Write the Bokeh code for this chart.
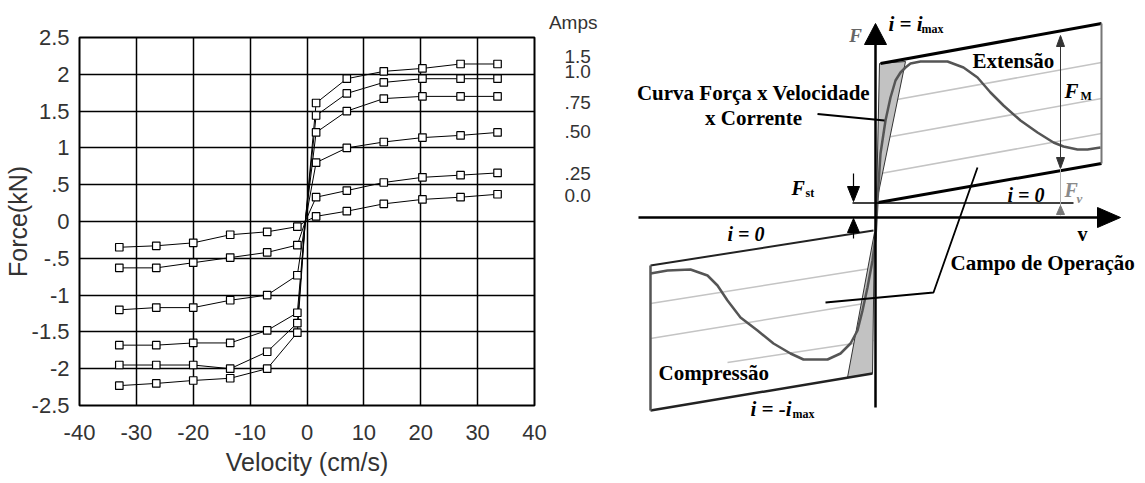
from bokeh.plotting import figure
from bokeh.layouts import row
from bokeh.models import Range1d, LinearAxis, FixedTicker
from bokeh.core.properties import value
from bokeh.embed import file_html
from bokeh.resources import INLINE

# ---------------- left chart data ----------------
velocity = [-33, -26.5, -20, -13.5, -7, -1.7, 1.6, 7, 13.5, 20.3, 27, 33.5]
crossing_velocity = -0.3
force_1_5 = [-2.23, -2.20, -2.16, -2.13, -2.00, -1.51, 1.61, 1.94, 2.04, 2.08, 2.14, 2.14]
force_1_0 = [-1.95, -1.95, -1.95, -2.00, -1.77, -1.38, 1.44, 1.74, 1.89, 1.94, 1.94, 1.94]
force_0_75 = [-1.68, -1.68, -1.65, -1.65, -1.48, -1.24, 1.21, 1.50, 1.67, 1.70, 1.70, 1.70]
force_0_50 = [-1.20, -1.17, -1.17, -1.07, -1.00, -0.73, 0.80, 1.00, 1.08, 1.14, 1.17, 1.21]
force_0_25 = [-0.63, -0.63, -0.56, -0.49, -0.42, -0.32, 0.33, 0.42, 0.53, 0.60, 0.63, 0.66]
force_0_0 = [-0.35, -0.33, -0.29, -0.18, -0.14, -0.07, 0.07, 0.14, 0.24, 0.30, 0.33, 0.37]
series = [force_1_5, force_1_0, force_0_75, force_0_50, force_0_25, force_0_0]
amp_labels = ["1.5", "1.0", ".75", ".50", ".25", "0.0"]
amp_label_force = [2.24, 2.04, 1.62, 1.22, 0.65, 0.36]
x_ticks = [-40, -30, -20, -10, 0, 10, 20, 30, 40]
x_tick_labels = ["-40", "-30", "-20", "-10", "0", "10", "20", "30", "40"]
y_ticks = [-2.5, -2, -1.5, -1, -0.5, 0, 0.5, 1, 1.5, 2, 2.5]
y_tick_labels = ["-2.5", "-2", "-1.5", "-1", "-.5", "0", ".5", "1", "1.5", "2", "2.5"]

SANS = "Liberation Sans"
SERIF = "Liberation Serif"
TXT = "#333333"

p = figure(width=605, height=483, x_range=Range1d(-40, 40), y_range=Range1d(-2.5, 2.5),
           output_backend="svg", toolbar_location=None,
           min_border_left=79, min_border_right=71, min_border_top=37, min_border_bottom=78)
p.frame_align = False
p.background_fill_color = "white"
p.outline_line_color = "black"
p.outline_line_width = 2

p.title.text = "Amps"
p.title.align = "right"
p.title.offset = -63
p.title.text_font = SANS
p.title.text_font_size = "19px"
p.title.text_font_style = "normal"
p.title.text_color = TXT

p.xaxis.ticker = FixedTicker(ticks=x_ticks)
p.yaxis.ticker = FixedTicker(ticks=y_ticks)
p.xaxis.major_label_overrides = {t: s for t, s in zip(x_ticks, x_tick_labels)}
p.yaxis.major_label_overrides = {t: s for t, s in zip(y_ticks, y_tick_labels)}
for ax in (p.xaxis[0], p.yaxis[0]):
    ax.axis_line_color = None
    ax.major_tick_out = 0
    ax.major_tick_in = 0
    ax.minor_tick_out = 0
    ax.minor_tick_in = 0
    ax.major_label_text_font = SANS
    ax.major_label_text_font_size = "22px"
    ax.major_label_text_color = TXT
    ax.axis_label_text_font = SANS
    ax.axis_label_text_font_size = "25px"
    ax.axis_label_text_font_style = "normal"
    ax.axis_label_text_color = TXT
p.xaxis.axis_label = "Velocity (cm/s)"
p.xaxis.major_label_standoff = 19
p.xaxis.axis_label_standoff = 5
p.yaxis.axis_label = "Force(kN)"
p.yaxis.major_label_standoff = 10
p.yaxis.axis_label_standoff = -3

p.xgrid.ticker = FixedTicker(ticks=x_ticks)
p.ygrid.ticker = FixedTicker(ticks=y_ticks)
for g in (p.xgrid[0], p.ygrid[0]):
    g.grid_line_color = "black"
    g.grid_line_width = 1.5
    g.grid_line_alpha = 1.0

for f in series:
    lx = velocity[:6] + [crossing_velocity] + velocity[6:]
    ly = f[:6] + [0.0] + f[6:]
    p.line(lx, ly, line_color="black", line_width=1)
for f in series:
    p.scatter(velocity, f, marker="square", size=7.5, fill_color="white",
              line_color="black", line_width=1.2)

amp_axis = LinearAxis(ticker=FixedTicker(ticks=amp_label_force),
                      major_label_overrides={t: s for t, s in zip(amp_label_force, amp_labels)},
                      major_label_text_font=SANS, major_label_text_font_style="normal",
                      major_label_text_font_size="19px", major_label_text_color=TXT,
                      axis_line_color=None, major_tick_out=0, major_tick_in=0,
                      minor_tick_out=0, minor_tick_in=0, major_label_standoff=30)
p.add_layout(amp_axis, "right")

# ---------------- right schematic (units: px, origin at axis crossing) ----------------
f_axis = ([0, 0], [-190, 173])
v_axis = ([-237, 223], [0, 0])
f_head = ([0, -11, 11], [194, 173, 173])
v_head = ([245, 222, 222], [0, 10, -10])

ext_top = ([5, 226], [154, 194])
ext_bottom = ([0, 226], [14.5, 54])
ext_right = ([226, 226], [54, 194])
ext_shade = ([4, 30, 1], [154, 156, 15])
ext_guides_x = [[5, 226], [5, 226], [5, 226]]
ext_guides_y = [[115, 155], [79, 119], [44, 84]]

comp_top = ([-225, -2], [-48, -13])
comp_bottom = ([-225, -3], [-193, -156])
comp_left = ([-225, -225], [-48, -193])
comp_shade = ([-28, -3, -1], [-160, -156, -15])
comp_guides_x = [[-225, -5], [-225, -5], [-148, -2]]
comp_guides_y = [[-86, -51], [-121, -85], [-145, -123]]

curve_v = [-225, -208, -185, -168, -158, -148, -135, -118, -102, -85, -72, -48, -35, -25,
           -18, -13, -8, -3, 0, 2, 5, 10, 15, 20, 25, 30, 35, 45, 72, 88, 102, 115, 128,
           145, 162, 178, 188, 202, 212, 225]
curve_f = [-56, -53, -52, -58, -68, -83, -100, -113, -126, -136, -142, -142, -136, -126,
           -113, -93, -70, -43, -20, 17, 64, 97, 120, 137, 145, 150, 154, 156, 156, 150,
           140, 125, 112, 97, 85, 75, 71, 68, 68, 70]

i0_line = ([-23, 198], [14.5, 14.5])
leader_curva = ([-58, 9], [103.5, 97])
leader_campo = ([102, 58, -50], [50, -75, -85])

d = figure(width=540, height=483, x_range=Range1d(-270, 270), y_range=Range1d(-266, 217),
           output_backend="svg", toolbar_location=None, min_border=0,
           x_axis_location=None, y_axis_location=None)
d.frame_align = False
d.grid.visible = False
d.outline_line_color = None

d.multi_line(ext_guides_x, ext_guides_y, line_color="#c4c4c4", line_width=1.5)
d.multi_line(comp_guides_x, comp_guides_y, line_color="#c4c4c4", line_width=1.5)
d.patch(*ext_shade, fill_color="#c2c2c2", line_color="#333333", line_width=1)
d.patch(*comp_shade, fill_color="#c2c2c2", line_color="#333333", line_width=1)
d.line(*ext_top, line_color="black", line_width=3)
d.line(*ext_bottom, line_color="black", line_width=3)
d.line(*ext_right, line_color="#777777", line_width=2)
d.line(*comp_top, line_color="#222222", line_width=2)
d.line(*comp_bottom, line_color="#222222", line_width=2.5)
d.line(*comp_left, line_color="#555555", line_width=2.5)
d.line(curve_v, curve_f, line_color="#555555", line_width=2.5)
d.line(*f_axis, line_color="black", line_width=2.5)
d.line(*v_axis, line_color="black", line_width=2.5)
d.patch(*f_head, fill_color="black", line_color="black")
d.patch(*v_head, fill_color="black", line_color="black")
d.line(*i0_line, line_color="black", line_width=1.5)
# F_st arrows
d.line([-22, -22], [44, 30], line_color="black", line_width=1.2)
d.patch([-22, -28, -16], [16, 31, 31], fill_color="black", line_color="black")
d.line([-22, -22], [-14, -21], line_color="black", line_width=1.2)
d.patch([-22, -28, -16], [-1, -15, -15], fill_color="black", line_color="black")
# F_M double arrow
d.line([185, 185], [176, 55], line_color="#333333", line_width=1)
d.patch([185, 181, 189], [182, 171, 171], fill_color="#333333", line_color="#333333")
d.patch([185, 181, 189], [49, 60, 60], fill_color="#333333", line_color="#333333")
# F_v marker
d.line([185, 185], [49, 2], line_color="#b0b0b0", line_width=1)
d.patch([185, 181, 189], [12, 3, 3], fill_color="#777777", line_color="#777777")
# leaders
d.line(*leader_curva, line_color="black", line_width=2)
d.line(*leader_campo, line_color="black", line_width=1.8)


def txt(x, y, s, size, style="bold", color="black", align="left", font=SERIF):
    d.text([x], [y], [s], text_font=value(font), text_font_style=style,
           text_font_size=size, text_color=color, text_align=align, text_baseline="middle")


txt(-20, 182, "F", "19px", "bold italic", "#666666", "center")
txt(13, 194, "i = i", "21px", "bold italic")
txt(46, 189, "max", "12px", "bold")
txt(97, 157, "Extensão", "21px")
txt(189, 127, "F", "21px", "bold italic")
txt(205, 122, "M", "12px", "bold")
txt(132, 23, "i = 0", "20px", "bold italic")
txt(189, 28, "F", "20px", "bold italic", "#8a8a8a")
txt(201, 19, "v", "13px", "bold italic", "#8a8a8a")
txt(202, -16, "v", "20px", "bold")
txt(-122, 125, "Curva Força x Velocidade", "21px", "bold", "black", "center")
txt(-122, 100, "x Corrente", "21px", "bold", "black", "center")
txt(-84, 30, "F", "20px", "bold italic")
txt(-70, 25, "st", "12px", "bold")
txt(-148, -16, "i = 0", "20px", "bold italic")
txt(-217, -155, "Compressão", "21px")
txt(-125, -191, "i = -i", "21px", "bold italic")
txt(-83, -196, "max", "12px", "bold")
txt(75, -45, "Campo de Operação", "21px")

layout = row(p, d)
open("out.html", "w").write(file_html(layout, INLINE))
